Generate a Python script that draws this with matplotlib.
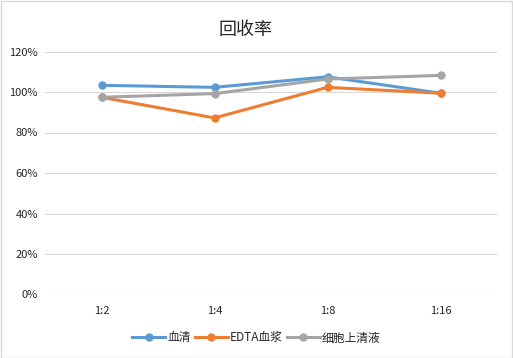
import matplotlib
matplotlib.use('Agg')
import matplotlib.pyplot as plt
from matplotlib.ticker import PercentFormatter

plt.rcParams['font.family'] = ['Noto Sans CJK SC', 'DejaVu Sans']

categories = ['1:2', '1:4', '1:8', '1:16']
serum = [103.3, 102.3, 107.5, 99.4]
edta_plasma = [97.4, 87.2, 102.3, 99.4]
supernatant = [97.4, 99.2, 106.4, 108.2]
yticks = [0, 20, 40, 60, 80, 100, 120]

fig = plt.figure(figsize=(5.13, 3.58), dpi=100)
ax = fig.add_axes([45 / 513, 1 - 294.5 / 358, 452 / 513, (294.5 - 51.5) / 358])

x = range(len(categories))
ax.plot(x, serum, color='#5b9bd5', lw=2.2, marker='o', ms=5, label='血清', zorder=3)
ax.plot(x, edta_plasma, color='#ed7d31', lw=2.2, marker='o', ms=5, label='EDTA血浆', zorder=3)
ax.plot(x, supernatant, color='#a5a5a5', lw=2.2, marker='o', ms=5, label='细胞上清液', zorder=3)

ax.set_xlim(-0.5, 3.5)
ax.set_ylim(0, 120)
ax.set_yticks(yticks)
ax.yaxis.set_major_formatter(PercentFormatter(decimals=0))
ax.set_xticks(list(x))
ax.set_xticklabels(categories)
ax.grid(axis='y', color='#d9d9d9', lw=0.8)
ax.set_axisbelow(True)
for s in ax.spines.values():
    s.set_visible(False)
ax.tick_params(length=0, labelsize=8, colors='#262626')
ax.tick_params(axis='x', pad=8)
ax.tick_params(axis='y', pad=5)

fig.text(246 / 513, 1 - 30 / 358, '回收率', ha='center', va='center', fontsize=13, color='#262626')

fig.legend(loc='center', bbox_to_anchor=(0.5, 1 - 338 / 358), ncol=3, frameon=False,
           fontsize=8.5, handlelength=2.8, columnspacing=0.3, handletextpad=0.2,
           labelcolor='#262626')

fig.patches.append(plt.Rectangle((0.001, 0.001), 0.997, 0.996, transform=fig.transFigure,
                                 fill=False, edgecolor='#d9d9d9', lw=1))

fig.savefig('out.png', dpi=100, facecolor='white')
